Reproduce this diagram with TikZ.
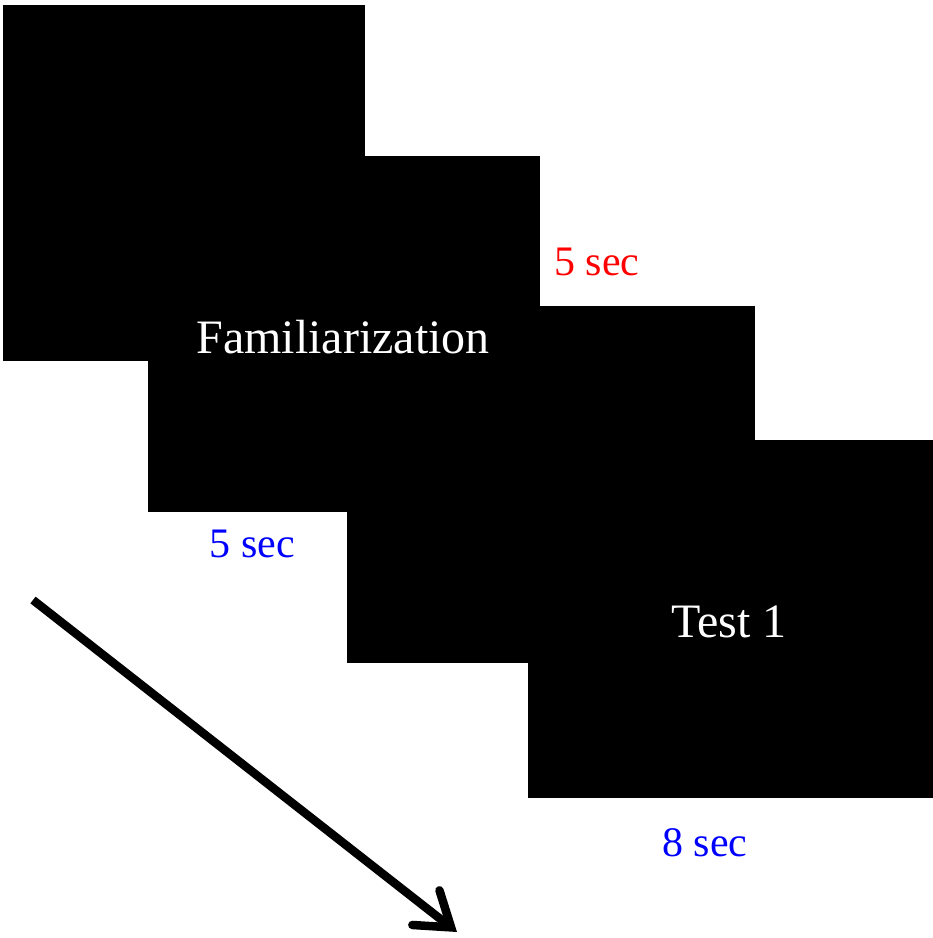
\documentclass[tikz,border=0pt]{standalone}
\usepackage{fontspec}
\setmainfont{Liberation Serif}
\usetikzlibrary{arrows.meta}

\begin{document}
\begin{tikzpicture}[x=1pt,y=-1pt,
	screen/.style={fill=black, inner sep=0pt},
	caption/.style={text=white, font=\fontsize{48}{50}\selectfont},
	dur/.style={font=\fontsize{42}{44}\selectfont}]
	\useasboundingbox (0,0) rectangle (933,938);
	\begin{scope}
		\node[screen, minimum width=362, minimum height=356] (s1) at (184,183) {};
		\node[screen, minimum width=392, minimum height=356] (s2) at (344,334) {};
		\node[screen, minimum width=408, minimum height=357] (s3) at (551,484.5) {};
		\node[screen, minimum width=405, minimum height=358] (s4) at (730.5,619) {};

		\node[caption] (fam) at (343,337) {Familiarization}; % on s2
		\node[caption] (test) at (729,622) {Test 1}; % on s4

		\node[dur, text=red] (d1) at (597,262) {5 sec}; % gap
		\node[dur, text=blue] (d2) at (252.5,544) {5 sec};
		\node[dur, text=blue] (d3) at (705,843) {8 sec};

		\coordinate (t0) at (33,600);
		\coordinate (t1) at (457,932);
		\draw[line width=8.5pt, -{Straight Barb[length=32pt,width=44pt,line cap=round]}] (t0) -- (t1); % time
	\end{scope}
\end{tikzpicture}
\end{document}
